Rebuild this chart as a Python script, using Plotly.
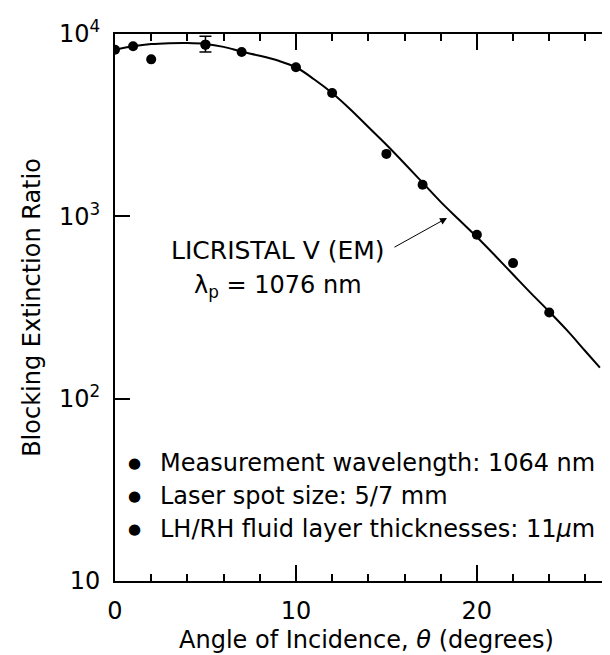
import plotly.graph_objects as go

# Measured points (angle in degrees, blocking extinction ratio)
theta_meas = [0, 1, 2, 5, 7, 10, 12, 15, 17, 20, 22, 24]
ratio_meas = [8200, 8560, 7260, 8740, 7970, 6570, 4750, 2200, 1490, 793, 554, 297]

# Error bar on the 5-degree point
theta_err = [5]
ratio_err = [8740]
err_plus = [970]
err_minus = [770]

# Calculated curve (LICRISTAL V (EM), lambda_p = 1076 nm)
theta_fit = [0, 1, 2, 3, 4, 5, 6, 7, 8, 9, 10, 11, 12, 13, 14, 15, 16, 17,
             18, 19, 20, 21, 22, 23, 24, 25, 26, 26.8]
ratio_fit = [8200, 8560, 8800, 8900, 8920, 8820, 8500, 8000, 7600, 7150, 6570,
             5650, 4750, 3870, 3090, 2470, 1950, 1530, 1200, 960, 770, 610,
             480, 378, 300, 236, 182, 148]

x_tickvals = [0, 10, 20]
x_ticktext = ["0", "10", "20"]
y_tickvals = [10, 100, 1000, 10000]
y_ticktext = ["10", "10<sup>2</sup>", "10<sup>3</sup>", "10<sup>4</sup>"]

FONT = "DejaVu Sans"
FS = 24

fig = go.Figure()
fig.add_trace(go.Scatter(x=theta_fit, y=ratio_fit, mode="lines",
                         line=dict(color="black", width=2, shape="spline"),
                         showlegend=False, hoverinfo="skip"))
fig.add_trace(go.Scatter(x=theta_meas, y=ratio_meas, mode="markers",
                         marker=dict(color="black", size=10),
                         showlegend=False))
fig.add_trace(go.Scatter(x=theta_err, y=ratio_err, mode="markers",
                         marker=dict(color="black", size=10),
                         error_y=dict(type="data", symmetric=False,
                                      array=err_plus, arrayminus=err_minus,
                                      color="black", thickness=1.5, width=6),
                         showlegend=False, yaxis="y2"))

ann_font = dict(family=FONT, size=FS, color="black")
annotations = [
    dict(text="LICRISTAL V (EM)", x=0.324, y=0.605, xref="paper", yref="paper",
         xanchor="center", yanchor="middle", showarrow=False,
         font=dict(family=FONT, size=25, color="black")),
    dict(text="\u03bb<sub>p</sub> = 1076 nm", x=0.324, y=0.539, xref="paper", yref="paper",
         xanchor="center", yanchor="middle", showarrow=False, font=ann_font),
    dict(text="", x=0.660, y=0.6636, xref="paper", yref="paper", showarrow=True,
         ax=-54, ay=30, arrowhead=2, arrowsize=1.4, arrowwidth=1, arrowcolor="black"),
]
bullet_lines = ["Measurement wavelength: 1064 nm",
                "Laser spot size: 5/7 mm",
                "LH/RH fluid layer thicknesses: 11<i>\u03bc</i>m"]
bullet_y = [0.2165, 0.1554, 0.0951]
for t, yy in zip(bullet_lines, bullet_y):
    annotations.append(dict(text="\u25cf", x=0.0378, y=yy, xref="paper", yref="paper",
                            xanchor="center", yanchor="middle", showarrow=False,
                            font=dict(family=FONT, size=15, color="black")))
    annotations.append(dict(text=t, x=0.0845, y=yy, xref="paper", yref="paper",
                            xanchor="left", yanchor="middle", showarrow=False,
                            font=ann_font))
annotations.append(dict(text="G1508", x=-0.183, y=-0.1536, xref="paper", yref="paper",
                        xanchor="left", yanchor="middle", showarrow=False,
                        font=dict(family=FONT, size=20, color="black")))

fig.update_layout(
    width=610, height=655,
    margin=dict(l=107, r=0, t=26, b=82),
    paper_bgcolor="white", plot_bgcolor="white",
    font=dict(family=FONT, size=FS, color="black"),
    annotations=annotations,
    xaxis=dict(range=[0, 27.8], showline=True, linewidth=2, linecolor="black",
               mirror="ticks", ticks="inside", ticklen=16, tickwidth=1.5,
               tickcolor="black", tickvals=x_tickvals, ticktext=x_ticktext,
               minor=dict(tick0=0, dtick=2, ticks="inside", ticklen=7,
                          tickwidth=1.5, tickcolor="black"),
               showgrid=False, zeroline=False, ticklabelstandoff=7,
               title=dict(text="Angle of Incidence, <i>\u03b8</i> (degrees)",
                          standoff=7, font=dict(family=FONT, size=FS))),
    yaxis=dict(type="log", range=[1, 4], showline=True, linewidth=2,
               linecolor="black", mirror=False, ticks="inside", ticklen=15,
               tickwidth=1.5, tickcolor="black", tickvals=y_tickvals,
               ticktext=y_ticktext, showgrid=False, zeroline=False,
               ticklabelstandoff=8,
               title=dict(text="Blocking Extinction Ratio", standoff=12,
                          font=dict(family=FONT, size=FS))),
    yaxis2=dict(type="log", range=[1, 4], overlaying="y", side="right",
                showline=False, ticks="inside", ticklen=15, tickwidth=1.5,
                tickcolor="black", tickvals=y_tickvals, showticklabels=False,
                showgrid=False, zeroline=False),
)

fig.write_html("out.html")
